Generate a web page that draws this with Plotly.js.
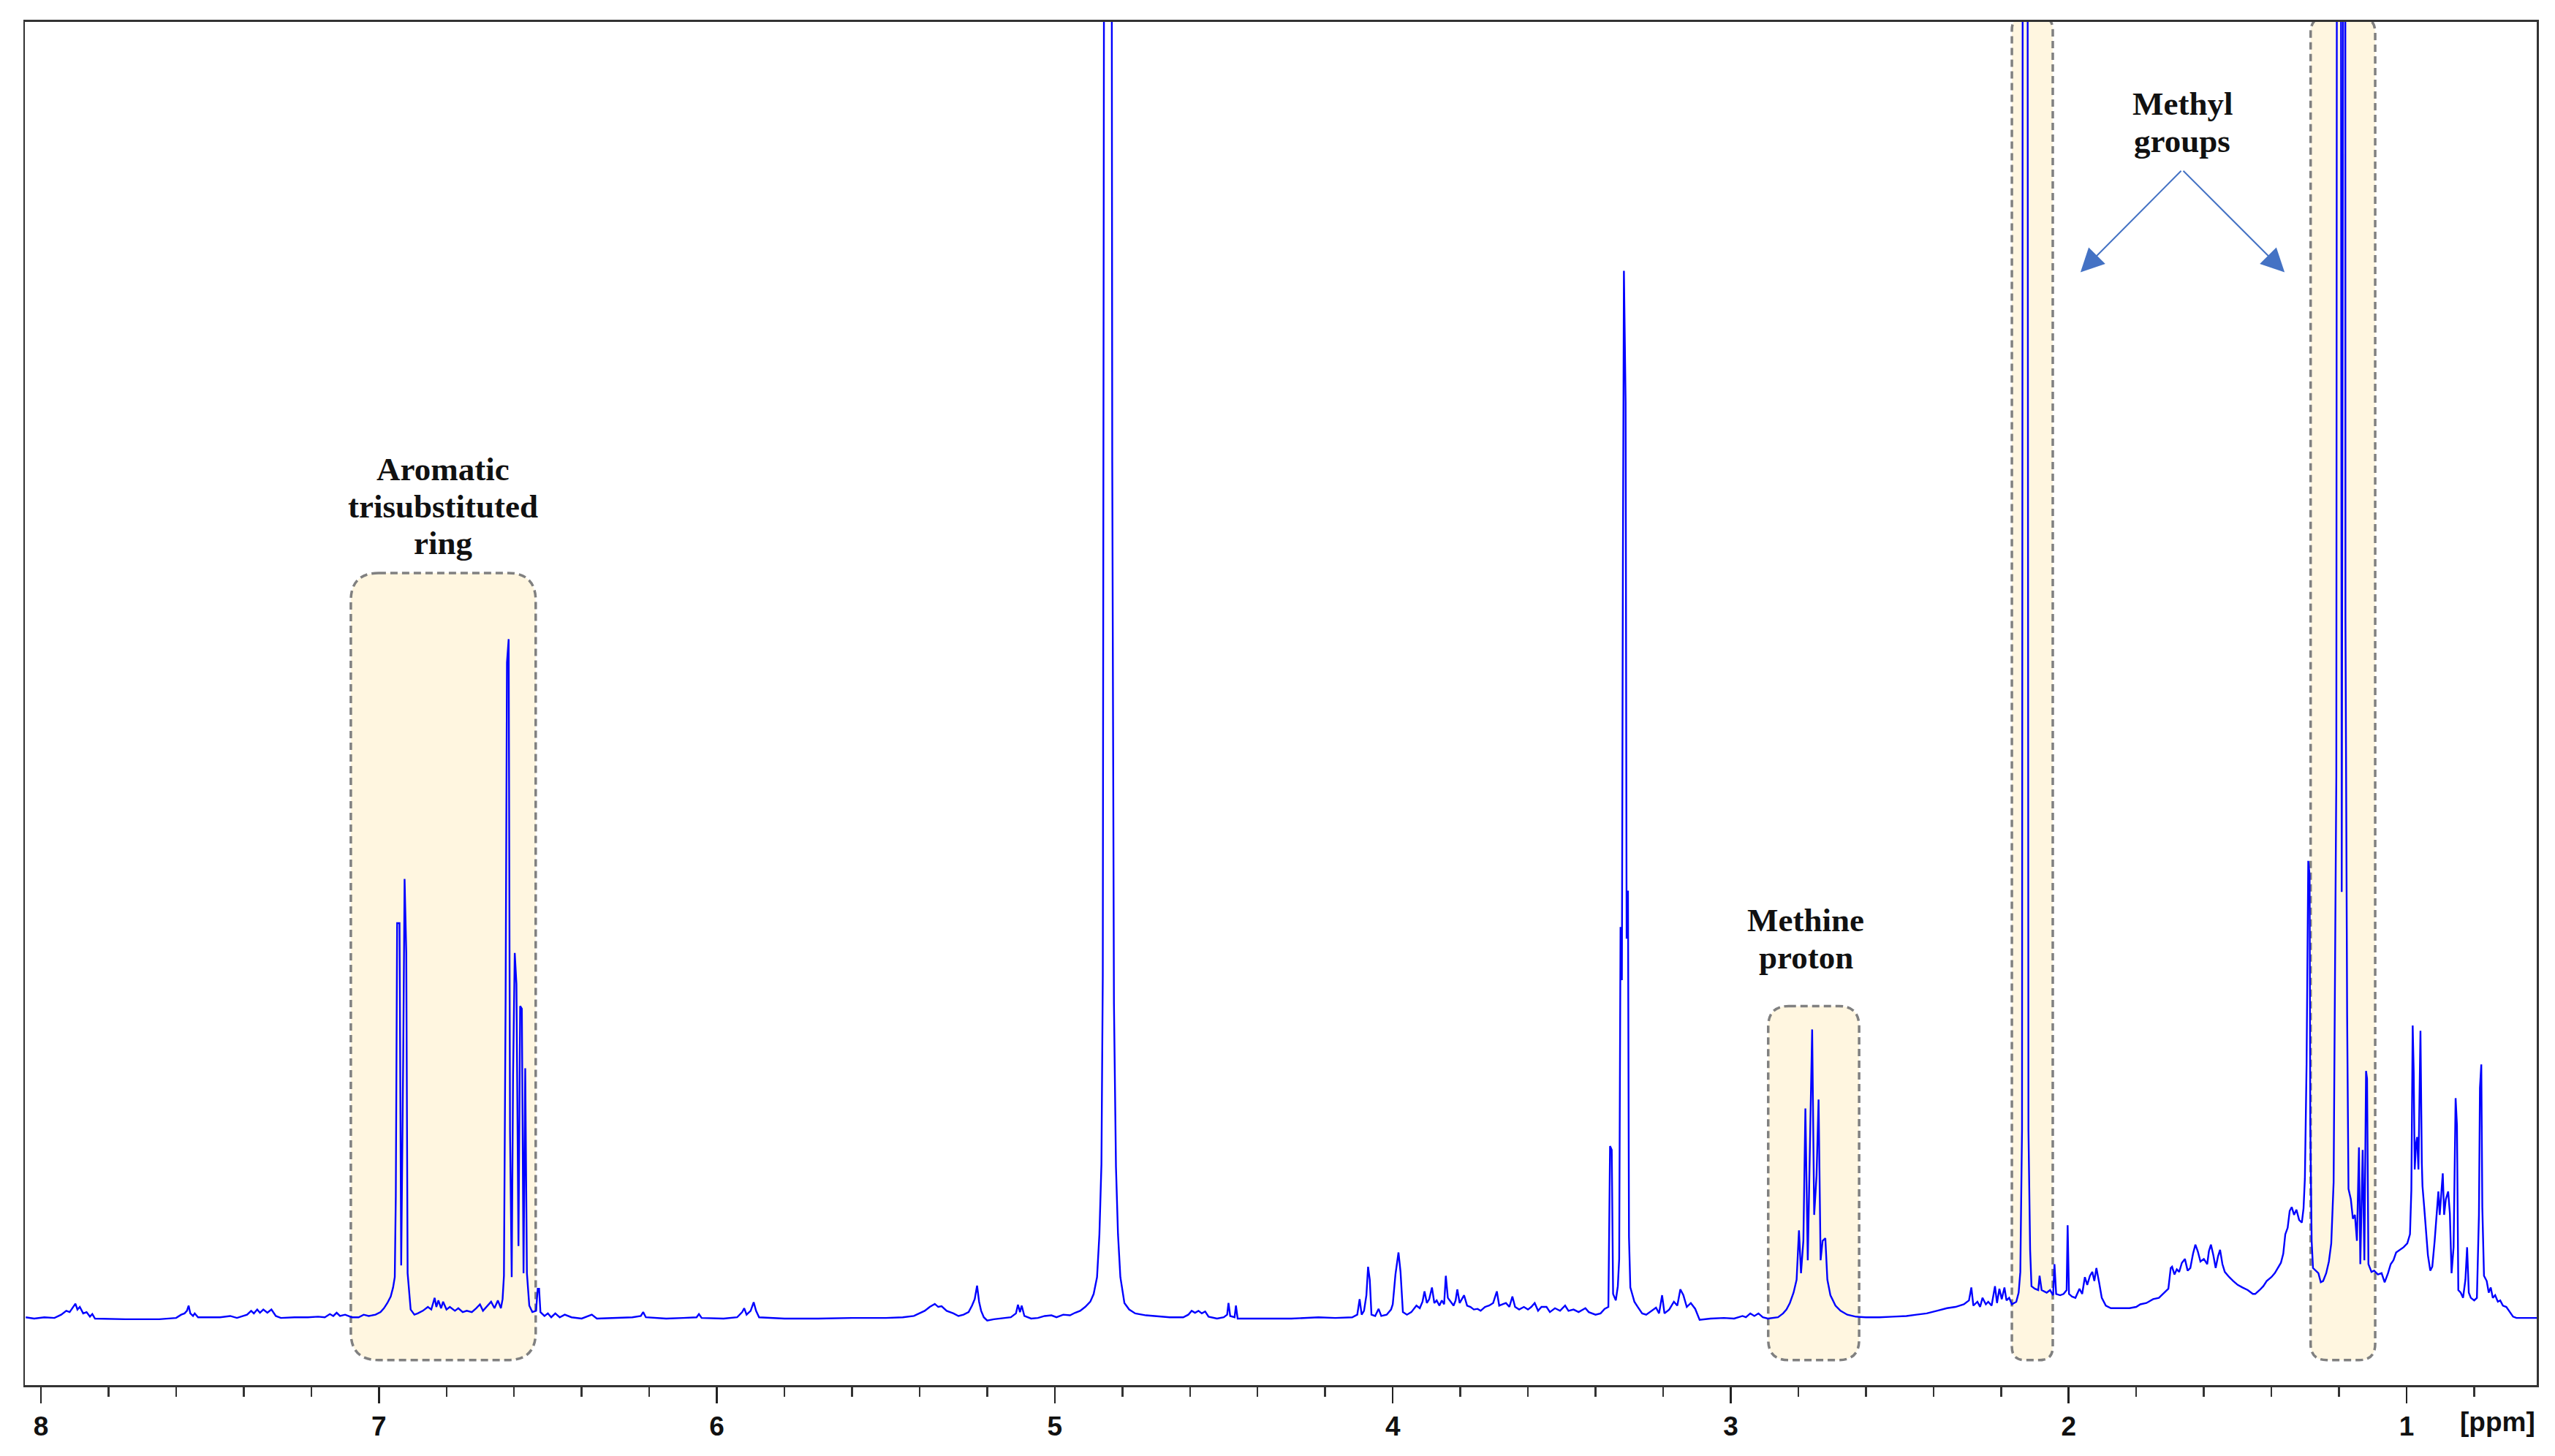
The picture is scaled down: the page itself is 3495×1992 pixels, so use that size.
<!DOCTYPE html>
<html>
<head>
<meta charset="utf-8">
<script src="https://cdn.plot.ly/plotly-3.0.1.min.js"></script>
<style>
  html, body { margin: 0; padding: 0; background: #fff; }
  #plot { width: 3495px; height: 1992px; }
</style>
</head>
<body>
<div id="plot"></div>
<script>
// 1H NMR spectrum, chemical shift (ppm) vs relative intensity (100 = top of the frame)

// 8.05 - 5.0 ppm: aromatic region and the water signal
const spectrumDownfield = [
  [8.045,0.1],[8.02,0.0],[7.99,0.1],[7.96,0.05],[7.94,0.3],[7.925,0.6],[7.915,0.5],[7.905,0.9],
  [7.898,1.15],[7.892,0.7],[7.885,0.9],[7.875,0.4],[7.865,0.5],[7.855,0.15],[7.848,0.35],[7.84,0.0],
  [7.75,-0.05],[7.65,-0.05],[7.60,0.05],[7.585,0.3],[7.575,0.4],[7.568,0.6],[7.563,1.0],[7.558,0.4],
  [7.55,0.2],[7.545,0.4],[7.535,0.1],[7.50,0.1],[7.47,0.1],[7.44,0.2],[7.42,0.05],[7.39,0.3],
  [7.378,0.6],[7.37,0.4],[7.36,0.7],[7.352,0.45],[7.342,0.7],[7.33,0.45],[7.318,0.7],[7.305,0.2],
  [7.29,0.05],[7.25,0.1],[7.21,0.1],[7.18,0.15],[7.16,0.1],[7.145,0.35],[7.135,0.2],[7.125,0.45],
  [7.115,0.2],[7.10,0.3],[7.08,0.1],[7.06,0.1],[7.045,0.3],[7.03,0.2],[7.01,0.3],[6.995,0.5],
  [6.985,0.8],[6.975,1.2],[6.965,1.7],[6.958,2.4],[6.953,3.2],[6.950,9.4],[6.946,30.5],[6.939,30.5],
  [6.934,4.1],[6.928,20.3],[6.924,33.9],[6.919,28.2],[6.915,3.5],[6.906,0.7],[6.895,0.3],[6.885,0.4],
  [6.87,0.6],[6.855,0.9],[6.845,0.7],[6.835,1.6],[6.83,0.9],[6.824,1.4],[6.816,0.8],[6.81,1.3],
  [6.80,0.7],[6.79,0.9],[6.775,0.6],[6.765,0.8],[6.752,0.5],[6.74,0.6],[6.725,0.5],[6.712,0.8],
  [6.701,1.1],[6.692,0.6],[6.682,0.9],[6.668,1.3],[6.658,0.8],[6.648,1.4],[6.639,0.8],[6.634,1.5],
  [6.630,3.3],[6.625,24.8],[6.621,50.6],[6.616,52.4],[6.612,14.5],[6.607,3.2],[6.603,18.8],[6.598,28.2],
  [6.593,25.8],[6.587,5.6],[6.582,24.1],[6.577,23.9],[6.572,3.5],[6.567,19.3],[6.562,3.5],[6.555,1.0],
  [6.546,0.5],[6.535,0.6],[6.530,2.3],[6.526,2.3],[6.522,0.5],[6.51,0.2],[6.50,0.4],[6.49,0.1],
  [6.478,0.4],[6.465,0.1],[6.45,0.3],[6.43,0.1],[6.40,0.0],[6.37,0.3],[6.355,0.0],[6.30,0.05],
  [6.25,0.1],[6.225,0.2],[6.218,0.5],[6.21,0.1],[6.15,0.0],[6.10,0.05],[6.06,0.1],[6.053,0.35],
  [6.045,0.05],[5.98,0.0],[5.94,0.1],[5.925,0.5],[5.919,0.8],[5.912,0.3],[5.90,0.6],[5.891,1.26],
  [5.884,0.6],[5.875,0.1],[5.80,0.0],[5.70,0.0],[5.60,0.05],[5.50,0.05],[5.45,0.1],[5.417,0.2],
  [5.40,0.4],[5.385,0.6],[5.37,0.9],[5.355,1.13],[5.345,0.9],[5.335,0.95],[5.32,0.6],[5.30,0.4],
  [5.285,0.2],[5.27,0.3],[5.255,0.5],[5.245,1.0],[5.237,1.5],[5.230,2.54],[5.224,1.3],[5.218,0.6],
  [5.21,0.1],[5.20,-0.15],[5.18,-0.05],[5.15,0.05],[5.13,0.1],[5.115,0.4],[5.109,1.07],[5.103,0.5],
  [5.098,1.0],[5.09,0.2],[5.07,0.0],[5.05,0.05],[5.03,0.2],[5.01,0.25]
];

// 5.0 - 2.9 ppm: water, sugars-like envelope, 3.31 multiplet
const spectrumMiddle = [
  [4.995,0.1],[4.975,0.3],[4.955,0.25],[4.94,0.45],[4.925,0.6],[4.91,0.9],[4.895,1.3],[4.885,1.9],
  [4.875,3.2],[4.868,6.5],[4.862,11.9],[4.858,26.4],[4.855,81.6],[4.850,200],[4.842,140],[4.835,200],
  [4.830,66],[4.825,24.3],[4.819,11.7],[4.813,6.5],[4.806,3.2],[4.794,1.2],[4.78,0.7],[4.762,0.4],
  [4.73,0.25],[4.70,0.2],[4.66,0.1],[4.62,0.1],[4.605,0.3],[4.595,0.6],[4.585,0.45],[4.575,0.6],
  [4.565,0.4],[4.555,0.55],[4.545,0.15],[4.52,0.0],[4.50,0.1],[4.49,0.3],[4.486,1.2],[4.481,0.2],
  [4.468,0.1],[4.464,1.0],[4.459,0.0],[4.40,0.0],[4.30,0.0],[4.22,0.1],[4.17,0.05],[4.12,0.1],
  [4.105,0.3],[4.098,1.5],[4.092,0.3],[4.085,0.6],[4.078,1.8],[4.073,4.0],[4.068,3.0],[4.063,0.3],
  [4.052,0.2],[4.042,0.75],[4.034,0.2],[4.018,0.3],[4.005,0.7],[4.000,1.1],[3.992,3.4],[3.983,5.1],
  [3.977,3.6],[3.970,0.5],[3.958,0.3],[3.945,0.5],[3.93,1.0],[3.92,0.8],[3.912,1.3],[3.906,2.1],
  [3.899,1.2],[3.892,1.5],[3.884,2.4],[3.877,1.2],[3.870,1.4],[3.862,1.0],[3.855,1.4],[3.848,1.1],
  [3.843,3.3],[3.837,1.6],[3.829,1.3],[3.820,1.0],[3.814,1.4],[3.809,2.25],[3.802,1.2],[3.795,1.5],
  [3.789,1.8],[3.780,1.0],[3.770,0.9],[3.760,0.7],[3.749,0.75],[3.740,0.6],[3.727,0.9],[3.715,1.0],
  [3.703,1.2],[3.692,2.1],[3.685,1.0],[3.675,1.1],[3.665,1.2],[3.655,0.9],[3.646,1.7],[3.638,0.9],
  [3.626,0.7],[3.612,0.9],[3.600,0.7],[3.590,0.9],[3.580,1.2],[3.570,0.6],[3.560,0.9],[3.545,0.9],
  [3.535,0.5],[3.520,0.8],[3.505,0.6],[3.490,1.0],[3.480,0.6],[3.465,0.7],[3.450,0.5],[3.430,0.8],
  [3.420,0.5],[3.400,0.3],[3.385,0.4],[3.373,0.75],[3.362,0.9],[3.357,13.3],[3.352,13.0],[3.348,1.9],
  [3.340,1.4],[3.334,2.5],[3.330,4.6],[3.326,30.2],[3.322,26.1],[3.319,58.0],[3.316,80.8],[3.311,70.7],
  [3.308,29.3],[3.304,33.0],[3.301,6.3],[3.297,2.4],[3.293,2.0],[3.285,1.3],[3.275,0.9],[3.262,0.4],
  [3.250,0.3],[3.235,0.6],[3.221,0.85],[3.212,0.4],[3.203,1.8],[3.196,0.4],[3.182,0.7],[3.168,1.3],
  [3.158,1.0],[3.149,2.25],[3.140,1.8],[3.130,0.9],[3.118,1.2],[3.105,0.75],[3.092,-0.1],[3.06,0.0],
  [3.02,0.05],[2.99,0.0],[2.965,0.2],[2.955,0.1],[2.942,0.4],[2.93,0.2],[2.918,0.4],[2.905,0.1]
];

// 2.9 - 0.61 ppm: methine, methyl groups and aliphatic envelope
const spectrumUpfield = [
  [2.89,0.0],[2.86,0.1],[2.845,0.4],[2.835,0.7],[2.825,1.2],[2.814,2.0],[2.805,3.0],[2.798,6.8],
  [2.792,3.5],[2.785,6.0],[2.779,16.2],[2.772,4.5],[2.766,12.0],[2.759,22.3],[2.753,8.0],[2.746,11.0],
  [2.740,16.9],[2.734,4.5],[2.728,6.0],[2.720,6.2],[2.714,3.0],[2.705,1.8],[2.69,1.0],[2.675,0.6],
  [2.655,0.3],[2.63,0.15],[2.60,0.1],[2.56,0.1],[2.52,0.15],[2.48,0.2],[2.45,0.3],[2.42,0.4],
  [2.39,0.6],[2.36,0.8],[2.335,0.9],[2.31,1.1],[2.295,1.4],[2.288,2.4],[2.282,1.0],[2.27,1.3],
  [2.262,0.9],[2.255,1.6],[2.245,1.1],[2.238,1.3],[2.228,1.0],[2.218,2.5],[2.212,1.2],[2.205,2.3],
  [2.198,1.5],[2.19,2.4],[2.184,1.4],[2.176,1.6],[2.168,1.1],[2.155,1.3],[2.148,2.0],[2.143,3.6],
  [2.138,14.6],[2.134,200],[2.124,200],[2.119,14.6],[2.114,5.3],[2.110,2.5],[2.100,2.3],[2.090,2.2],
  [2.086,3.3],[2.080,2.2],[2.065,2.0],[2.055,2.2],[2.046,1.8],[2.042,4.2],[2.037,1.9],[2.025,1.8],
  [2.015,1.9],[2.006,2.2],[2.003,7.2],[1.999,1.9],[1.99,1.7],[1.98,1.6],[1.968,2.3],[1.96,1.9],
  [1.952,3.2],[1.945,2.6],[1.937,3.3],[1.930,3.6],[1.924,2.9],[1.918,3.9],[1.910,2.8],[1.902,1.6],
  [1.89,1.0],[1.875,0.8],[1.85,0.8],[1.82,0.8],[1.80,0.9],[1.788,1.1],[1.77,1.2],[1.75,1.5],
  [1.733,1.6],[1.72,1.9],[1.705,2.3],[1.698,3.9],[1.694,4.0],[1.687,3.4],[1.680,3.8],[1.673,3.6],
  [1.665,4.3],[1.656,4.6],[1.648,3.7],[1.640,3.9],[1.632,5.0],[1.625,5.7],[1.618,5.2],[1.610,4.4],
  [1.600,4.6],[1.590,4.2],[1.585,5.2],[1.579,5.7],[1.572,4.9],[1.565,3.9],[1.558,4.8],[1.552,5.3],
  [1.545,4.2],[1.538,3.6],[1.525,3.2],[1.513,2.9],[1.50,2.6],[1.486,2.4],[1.47,2.2],[1.455,1.9],
  [1.448,1.9],[1.435,2.2],[1.424,2.5],[1.414,2.9],[1.40,3.2],[1.39,3.5],[1.381,3.9],[1.372,4.3],
  [1.365,5.0],[1.359,6.5],[1.352,7.0],[1.346,8.3],[1.340,8.6],[1.333,8.0],[1.326,8.4],[1.318,7.6],
  [1.310,7.4],[1.305,8.5],[1.301,10.8],[1.296,19.6],[1.291,35.3],[1.287,34.2],[1.285,15.0],[1.281,6.0],
  [1.277,3.9],[1.270,3.7],[1.261,3.5],[1.254,2.8],[1.247,2.9],[1.238,3.5],[1.230,4.4],[1.223,5.8],
  [1.216,10.5],[1.208,41.8],[1.204,200],[1.197,200],[1.192,32.9],[1.189,200],[1.182,200],[1.181,54],
  [1.176,23.4],[1.172,10.0],[1.165,9.2],[1.159,7.7],[1.153,8.0],[1.147,6.0],[1.141,13.2],[1.137,4.2],
  [1.130,13.0],[1.125,4.5],[1.120,19.1],[1.117,18.5],[1.113,4.2],[1.104,3.6],[1.096,3.7],[1.085,3.4],
  [1.074,3.5],[1.065,2.8],[1.055,3.5],[1.047,4.2],[1.039,4.5],[1.031,5.1],[1.020,5.3],[1.009,5.5],
  [0.998,5.8],[0.990,6.5],[0.986,9.9],[0.982,22.6],[0.979,19.0],[0.976,11.5],[0.972,13.5],[0.969,14.0],
  [0.965,11.5],[0.962,16.0],[0.959,22.2],[0.955,12.0],[0.953,10.2],[0.948,8.6],[0.943,7.0],[0.937,4.9],
  [0.930,3.7],[0.924,4.0],[0.917,6.0],[0.910,8.4],[0.906,9.8],[0.902,8.0],[0.898,9.3],[0.893,11.2],
  [0.889,8.0],[0.884,9.2],[0.877,9.8],[0.872,8.1],[0.867,3.5],[0.861,5.5],[0.855,17.0],[0.851,14.9],
  [0.847,2.2],[0.840,2.0],[0.833,1.6],[0.826,3.0],[0.821,5.5],[0.816,2.0],[0.810,1.6],[0.800,1.4],
  [0.792,1.6],[0.786,8.0],[0.783,17.8],[0.779,19.6],[0.776,8.6],[0.771,3.3],[0.763,2.9],[0.757,2.0],
  [0.751,2.4],[0.745,1.6],[0.738,1.8],[0.730,1.3],[0.723,1.4],[0.715,1.0],[0.705,0.9],[0.695,0.5],
  [0.685,0.15],[0.675,0.05],[0.64,0.05],[0.61,0.05]
];

// highlighted regions: [left ppm, right ppm, top intensity]
const regionBounds = [
  [7.083, 6.536, 57.5],
  [2.889, 2.620, 24.1],
  [2.168, 2.047, 100.4],
  [1.284, 1.093, 100.4]
];
// label lines, one per row of text
const aromaticLabel = ['Aromatic', 'trisubstituted', 'ring'];
const methineLabel = ['Methine', 'proton'];
const methylLabel = ['Methyl', 'groups'];

const xRange = [8.0476, 0.615];
const yRange = [-5.13, 100];
const margin = { l: 34, r: 25, t: 30, b: 97 };
const plotW = 3495 - margin.l - margin.r;
const plotH = 1992 - margin.t - margin.b;
const ppmPerPx = (xRange[0] - xRange[1]) / plotW;
const intPerPx = (yRange[1] - yRange[0]) / plotH;

const points = spectrumDownfield.concat(spectrumMiddle, spectrumUpfield);
const shifts = points.map(p => p[0]);
const intensities = points.map(p => p[1]);

// rounded rectangle path in data units, x axis reversed
function roundedBox(xl, xr, yt, yb, rPx) {
  const rx = rPx * ppmPerPx;
  const ry = rPx * intPerPx;
  return `M${xl - rx},${yt} L${xr + rx},${yt} Q${xr},${yt} ${xr},${yt - ry} ` +
    `L${xr},${yb + ry} Q${xr},${yb} ${xr + rx},${yb} L${xl - rx},${yb} ` +
    `Q${xl},${yb} ${xl},${yb + ry} L${xl},${yt - ry} Q${xl},${yt} ${xl - rx},${yt} Z`;
}

const cornerRadii = [38, 28, 18, 22];
const boxBottom = -3.2;
const shapes = regionBounds.map((b, i) => ({
  type: 'path',
  xref: 'x', yref: 'y',
  path: roundedBox(b[0], b[1], b[2], boxBottom, cornerRadii[i]),
  fillcolor: '#FFF6E0',
  line: { color: '#808080', width: 3.5, dash: '10px,6px' },
  layer: 'below'
}));

const labelFont = { family: 'Liberation Serif, Times New Roman, serif', size: 45, color: '#111', weight: 'bold' };
const annotations = [];
// each label: lines, x centre (ppm), y of first line (intensity), line step in px
function addLabel(lines, x, yFirst, stepPx) {
  lines.forEach((t, i) => {
    annotations.push({
      x: x, y: yFirst - i * stepPx * intPerPx, xref: 'x', yref: 'y',
      text: t, showarrow: false, xanchor: 'center', yanchor: 'middle', font: labelFont
    });
  });
}
addLabel(aromaticLabel, 6.810, 65.5, 50.5);
addLabel(methineLabel, 2.778, 30.7, 51);
addLabel(methylLabel, 1.664, 93.7, 51);

// arrows from the methyl label down to both methyl regions
[[1.965, 80.7], [1.361, 80.7]].forEach(h => {
  annotations.push({
    x: h[0], y: h[1], xref: 'x', yref: 'y',
    ax: 1.664, ay: 88.6, axref: 'x', ayref: 'y',
    text: '', showarrow: true, arrowhead: 2, arrowsize: 3.2, arrowwidth: 2,
    arrowcolor: '#4472C4', standoff: 0, startstandoff: 0
  });
});

const tickFont = { family: 'Liberation Sans Narrow, Liberation Sans, Arial Narrow, sans-serif', size: 37, color: '#111', weight: 'bold' };
annotations.push({
  x: 0.730, y: 0, xref: 'x', yref: 'paper', yshift: -50,
  text: '[ppm]', showarrow: false, xanchor: 'center', yanchor: 'middle', font: tickFont
});

const trace = {
  x: shifts,
  y: intensities,
  type: 'scatter',
  mode: 'lines',
  line: { color: '#0000FF', width: 2.4 },
  hoverinfo: 'skip'
};

const layout = {
  width: 3495,
  height: 1992,
  margin: margin,
  paper_bgcolor: '#ffffff',
  plot_bgcolor: '#ffffff',
  showlegend: false,
  xaxis: {
    range: xRange,
    tick0: 0, dtick: 1,
    ticks: 'outside', ticklen: 22, tickwidth: 2.5, tickcolor: '#222',
    minor: { tick0: 0, dtick: 0.2, ticks: 'outside', ticklen: 13, tickwidth: 2.5, tickcolor: '#333' },
    tickfont: tickFont,
    showgrid: false, zeroline: false,
    showline: true, linecolor: '#333', linewidth: 3, mirror: true
  },
  yaxis: {
    range: yRange,
    showticklabels: false, ticks: '',
    showgrid: false, zeroline: false,
    showline: true, linecolor: '#333', linewidth: 2.5, mirror: true
  },
  shapes: shapes,
  annotations: annotations
};

Plotly.newPlot('plot', [trace], layout, { staticPlot: true });
</script>
</body>
</html>
